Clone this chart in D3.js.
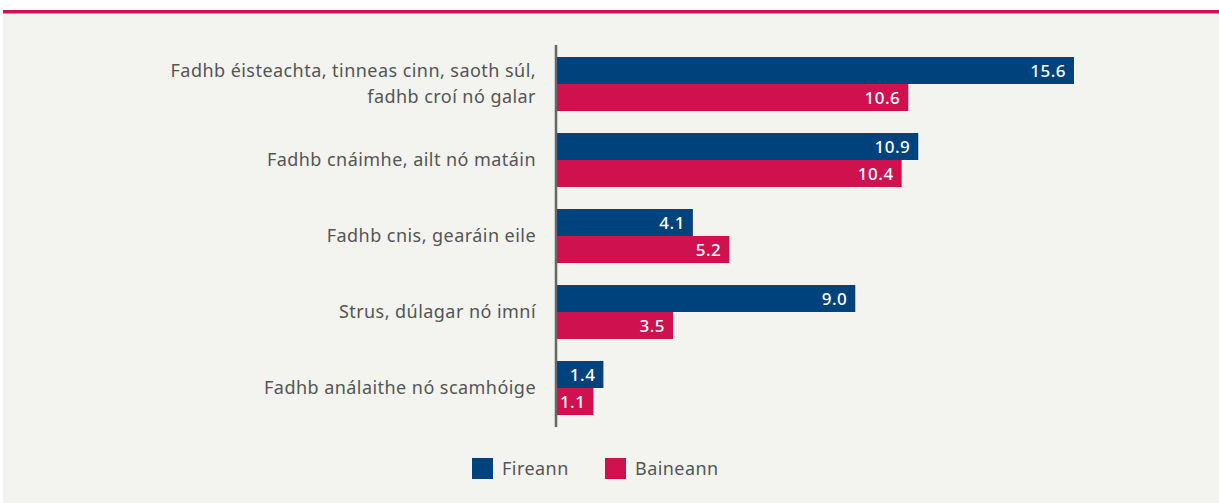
<!DOCTYPE html>
<html>
<head>
<meta charset="utf-8">
<script src="https://cdn.jsdelivr.net/npm/d3@7"></script>
<style>
  body { margin: 0; background: #fff; }
  svg { display: block; }
  text { font-family: "Noto Sans", "Open Sans", sans-serif; }
</style>
</head>
<body>
<svg id="chart" width="1219" height="503"></svg>
<script>
// categories (two-line labels split by "|")
const categories = [
  'Fadhb éisteachta, tinneas cinn, saoth súl,|fadhb croí nó galar',
  'Fadhb cnáimhe, ailt nó matáin',
  'Fadhb cnis, gearáin eile',
  'Strus, dúlagar nó imní',
  'Fadhb análaithe nó scamhóige'
];
const series = ['Fireann', 'Baineann'];
const fireann = [15.6, 10.9, 4.1, 9.0, 1.4];
const baineann = [10.6, 10.4, 5.2, 3.5, 1.1];
const colors = ['#00427c', '#d01150'];

const svg = d3.select('#chart');
const width = 1219, height = 503;

// background + top rule
svg.append('rect').attr('x', 3).attr('y', 10).attr('width', width - 3).attr('height', height - 10)
  .attr('fill', '#f3f3ef');
svg.append('rect').attr('x', 3).attr('y', 10).attr('width', width - 3).attr('height', 3.5)
  .attr('fill', '#d01150');

const x0 = 557;
const x = d3.scaleLinear().domain([0, 15.6]).range([x0, 1074]);
const y = d3.scaleBand().domain(d3.range(categories.length))
  .range([46, 426]).paddingInner(22 / 76).paddingOuter(11 / 76);
const sub = d3.scaleBand().domain([0, 1]).range([0, y.bandwidth()]);

const rows = categories.map((c, i) => ({label: c, vals: [fireann[i], baineann[i]]}));

const g = svg.selectAll('g.row').data(rows).join('g')
  .attr('class', 'row')
  .attr('transform', (d, i) => 'translate(0,' + y(i) + ')');

g.selectAll('rect').data(d => d.vals).join('rect')
  .attr('x', x0)
  .attr('y', (d, j) => sub(j))
  .attr('width', d => x(d) - x0)
  .attr('height', sub.bandwidth())
  .attr('fill', (d, j) => colors[j]);

g.selectAll('text.val').data(d => d.vals).join('text')
  .attr('class', 'val')
  .attr('x', d => x(d) - 8)
  .attr('y', (d, j) => sub(j) + sub.bandwidth() / 2)
  .attr('dy', '0.36em')
  .attr('text-anchor', 'end')
  .attr('fill', '#fff')
  .attr('font-size', 17)
  .attr('font-weight', 500)
  .attr('letter-spacing', 0.5)
  .text(d => d.toFixed(1));

g.each(function (d) {
  const lines = d.label.split('|');
  const t = d3.select(this).append('text')
    .attr('text-anchor', 'end')
    .attr('fill', '#555')
    .attr('font-size', 18)
    .attr('letter-spacing', 0.45);
  const mid = y.bandwidth() / 2;
  lines.forEach((l, k) => {
    t.append('tspan')
      .attr('x', 536)
      .attr('y', mid + (k - (lines.length - 1) / 2) * 26)
      .attr('dy', '0.36em')
      .text(l);
  });
});

// axis line
svg.append('line').attr('x1', x0 - 1).attr('x2', x0 - 1).attr('y1', 45).attr('y2', 427)
  .attr('stroke', '#666').attr('stroke-width', 2.5);

// legend
const legendX = [472, 605];
const lg = svg.selectAll('g.legend').data(series).join('g')
  .attr('class', 'legend')
  .attr('transform', (d, i) => 'translate(' + legendX[i] + ',458)');
lg.append('rect').attr('width', 21).attr('height', 21).attr('fill', (d, i) => colors[i]);
lg.append('text').attr('x', 30).attr('y', 10.5).attr('dy', '0.36em')
  .attr('fill', '#555').attr('font-size', 18).attr('letter-spacing', 0.45).text(d => d);
</script>
</body>
</html>
